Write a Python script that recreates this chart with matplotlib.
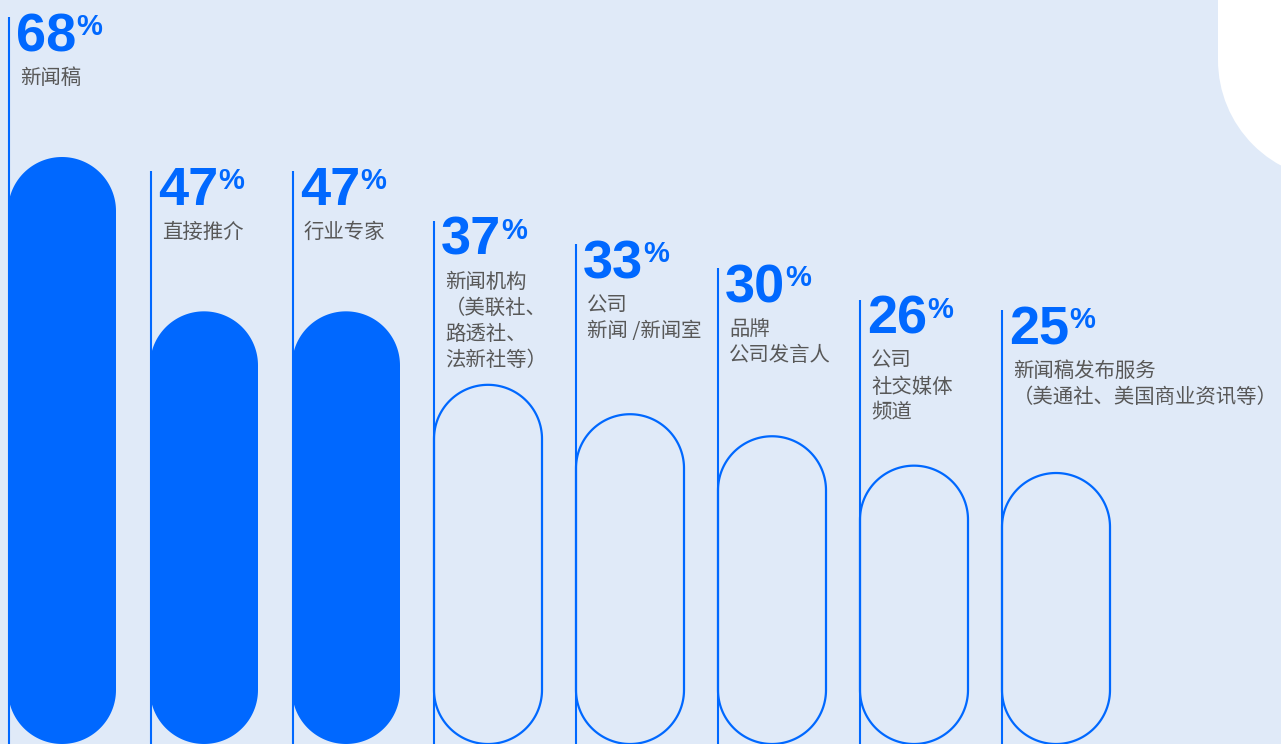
#Imports
import numpy as np
import matplotlib.pyplot as plt
from matplotlib.patches import Polygon, Circle, Rectangle

plt.rcParams['font.family'] = ['Noto Sans CJK SC', 'DejaVu Sans']

#Data
values = [68, 47, 47, 37, 33, 30, 26, 25]
labels = [
    ['新闻稿'],
    ['直接推介'],
    ['行业专家'],
    ['新闻机构', '（美联社、', '路透社、', '法新社等）'],
    ['公司', '新闻 /新闻室'],
    ['品牌', '公司发言人'],
    ['公司', '社交媒体', '频道'],
    ['新闻稿发布服务', '（美通社、美国商业资讯等）'],
]
filled = [True, True, True, False, False, False, False, False]

#Layout (pixels) and colours
W, H = 1281, 744
ppu = 7.349          # pixels per percent
px_x = 142.0         # pixels per bar slot
first_center = 62.0
bar_w_px = 108.0
label_gap_px = [140, 140, 140, 164, 170, 168, 166, 163]  # line top above bar top
blue = '#0068ff'
bg = '#e0eaf8'
grey = '#585858'

y_top = values[0] + 157 / ppu
y_base = values[0] - (H - 157) / ppu

fig = plt.figure(figsize=(W / 100, H / 100), dpi=100)
fig.patch.set_facecolor(bg)

#Decoration: white rounded shape in the top right corner
deco = fig.add_axes([0, 0, 1, 1])
deco.set_xlim(0, W)
deco.set_ylim(H, 0)
deco.axis('off')
deco.add_patch(Circle((1338, 60), 120, fc='white', ec='none'))
deco.add_patch(Rectangle((1218, -10), 300, 70, fc='white', ec='none'))
deco.add_patch(Rectangle((1338, 50), 200, 130, fc='white', ec='none'))

ax = fig.add_axes([0, 0, 1, 1])
ax.set_facecolor('none')
ax.set_xlim(-first_center / px_x, (W - first_center) / px_x)
ax.set_ylim(y_base, y_top)
ax.axis('off')

w = bar_w_px / px_x
ry = (bar_w_px / 2) / ppu


def capsule(xc, top, bottom):
    t = np.linspace(0, np.pi, 80)
    rx = w / 2
    xs = np.r_[xc + rx * np.cos(t), xc - rx * np.cos(t)]
    ys = np.r_[top - ry + ry * np.sin(t), bottom + ry - ry * np.sin(t)]
    return np.column_stack([xs, ys])


for i, v in enumerate(values):
    pts = capsule(i, v, y_base)
    if filled[i]:
        ax.add_patch(Polygon(pts, closed=True, fc=blue, ec='none', zorder=3))
    else:
        ax.add_patch(Polygon(pts, closed=True, fc='none', ec=blue, lw=1.6, zorder=3))

    #vertical guide line
    lx = i - w / 2 + (1 / px_x if filled[i] else 0)
    line_top = v + label_gap_px[i] / ppu
    ax.plot([lx, lx], [line_top, y_base], color=blue, lw=1.5,
            solid_capstyle='butt', zorder=2)

    #big number and percent sign
    num_y = line_top - 34 / ppu
    t = ax.text(lx + 7 / px_x, num_y, str(v), fontsize=39, fontweight='bold',
                family='Liberation Sans', color=blue, ha='left', va='baseline')
    ax.annotate('%', xy=(1, num_y + 16 / ppu), xycoords=(t, 'data'),
                xytext=(0, 0), textcoords='offset pixels',
                fontsize=21, fontweight='bold', family='Liberation Sans',
                color=blue, ha='left', va='baseline')

    #category label, one line at a time
    for k, line in enumerate(labels[i]):
        ax.text(lx + 11 / px_x, num_y - (33 + 26 * k) / ppu, line,
                fontsize=14.7, color=grey, ha='left', va='baseline')

plt.savefig('out.png', dpi=100, facecolor=bg)
